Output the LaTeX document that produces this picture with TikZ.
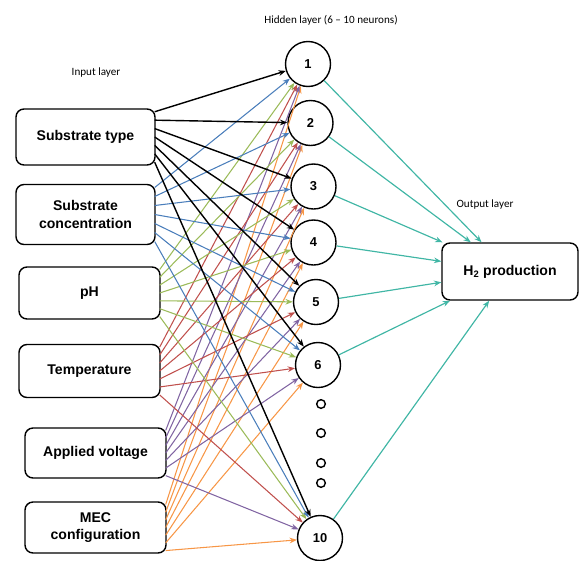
\documentclass[tikz,border=0pt]{standalone}
\usepackage{fontspec}
\setmainfont{Liberation Sans}
\newfontfamily\labelfont{Carlito}
\usetikzlibrary{arrows.meta,calc}

\definecolor{inblack}{RGB}{0,0,0}
\definecolor{inblue}{RGB}{74,126,187}
\definecolor{ingreen}{RGB}{155,187,89}
\definecolor{inred}{RGB}{192,80,77}
\definecolor{inpurple}{RGB}{128,100,162}
\definecolor{inorange}{RGB}{247,150,70}
\definecolor{outteal}{RGB}{64,182,165}

\tikzset{
  inbox/.style={draw, line width=1.2pt, rounded corners=2.4mm, align=center,
    inner sep=0pt, font=\bfseries\fontsize{12}{15}\selectfont},
  neuron/.style={draw, circle, line width=1.2pt, minimum size=13.5mm,
    inner sep=0pt, font=\bfseries\fontsize{11}{13}\selectfont},
  dotneuron/.style={draw, circle, line width=1.2pt, minimum size=2.6mm, inner sep=0pt},
  layerlabel/.style={font=\labelfont\fontsize{9.5}{11}\selectfont},
  link/.style={-{Stealth[length=2.2mm,width=1.7mm]}, line width=0.9pt},
}

\begin{document}
\begin{tikzpicture}[x=0.3mm,y=-0.3mm]
    \useasboundingbox (0,0) rectangle (579,560);

    % layer titles
    \node[layerlabel] (inlabel) at (96,73) {Input layer};
    \node[layerlabel] (hidlabel) at (331,20) {Hidden layer (6 – 10 neurons)};
    \node[layerlabel] (outlabel) at (485,205) {Output layer};

    % input boxes
    \foreach \n/\x/\y/\w/\h/\txt in {1/85.5/137/139/56/{Substrate type},
                                   2/85.5/214.5/139/60/{Substrate\\concentration},
                                   3/89.5/293/141/52/{pH},
                                   4/89.5/371/141/53/{Temperature},
                                   5/95.5/453/141/50/{Applied voltage},
                                   6/95.5/527.5/141/51/{MEC\\configuration}}
        \node[inbox, minimum width=\w*0.3mm, minimum height=\h*0.3mm] (in\n) at (\x,\y) {\txt};

    % hidden neurons
    \foreach \n/\x/\y in {1/308/64, 2/310.5/123, 3/313.5/186.5, 4/313.5/242.5,
                          5/316/302, 6/318/365, 10/320/538}
        \node[neuron] (h\n) at (\x,\y) {\n};

    % small circles between 6 and 10
    \foreach \y [count=\k] in {404,433,463,483}
        \node[dotneuron] (d\k) at (321,\y) {};

    % output box
    \node[inbox, minimum width=136*0.3mm, minimum height=57*0.3mm] (out) at (510,271.5)
        {H\textsubscript{2} production};

    % input to hidden
    \foreach \i/\c/\lw in {6/inorange/0.9pt, 5/inpurple/0.9pt, 4/inred/0.9pt,
                           3/ingreen/0.9pt, 2/inblue/0.9pt, 1/inblack/1.2pt}
        \foreach \h [count=\k from 0] in {1,2,3,4,5,6,10}
            \draw[link, \c, line width=\lw]
                ($(in\i.north east)!{0.06+0.88*\k/6}!(in\i.south east)+(-1,0)$) -- (h\h);

    % hidden to output
    \foreach \h in {1,2,3,4,5,6,10}
        \draw[link, outteal, line width=1pt] (h\h) -- (out);

\end{tikzpicture}
\end{document}
